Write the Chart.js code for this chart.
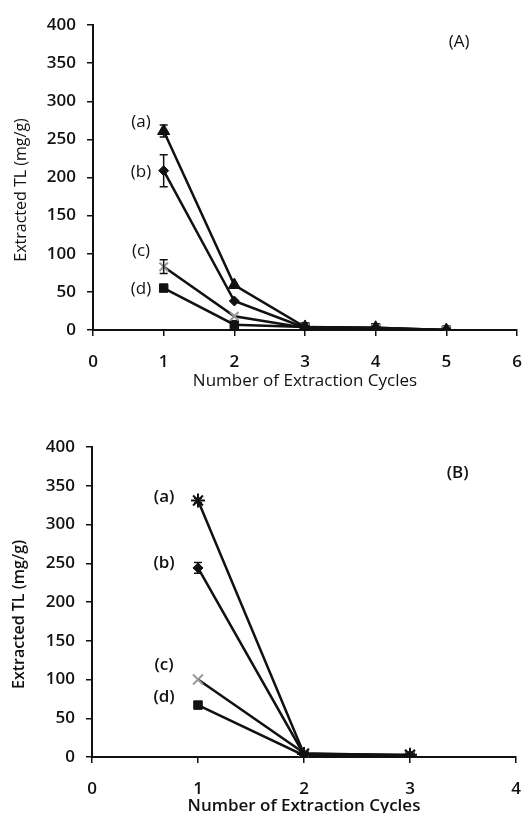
<!DOCTYPE html>
<html>
<head>
<meta charset="utf-8">
<script src="https://cdn.jsdelivr.net/npm/chart.js@4/dist/chart.umd.min.js"></script>
<style>
  html, body { margin: 0; padding: 0; background: #fff; }
  #wrap { position: relative; width: 525px; height: 813px; }
  .panel { position: absolute; left: 0; width: 525px; }
</style>
</head>
<body>
<div id="wrap">
  <div class="panel" style="top:0;height:400px"><canvas id="chartA"></canvas></div>
  <div class="panel" style="top:400px;height:413px"><canvas id="chartB"></canvas></div>
</div>
<script>
// --- data, panel A ---
const cyclesA = [1, 2, 3, 4, 5];
const seriesA_a = [261, 59, 4, 3, 0];
const seriesA_b = [209, 38, 3, 2, 0];
const seriesA_c = [83, 18, 3, 2, 0];
const seriesA_d = [55, 7, 4, 3, 0];
const errA_a = [8, 0, 0, 0, 0];
const errA_b = [21, 0, 0, 0, 0];
const errA_c = [9, 0, 0, 0, 0];
const errA_d = [0, 0, 0, 0, 0];

// --- data, panel B ---
const cyclesB = [1, 2, 3];
const seriesB_a = [331, 4, 3];
const seriesB_b = [244, 3, 2];
const seriesB_c = [100, 5, 2];
const seriesB_d = [67, 2, 1];
const errB_a = [3, 0, 0];
const errB_b = [7, 0, 0];
const errB_c = [0, 0, 0];
const errB_d = [0, 0, 0];

// series labels and where they sit (data units)
const seriesNames = ['(a)', '(b)', '(c)', '(d)'];
const labelXA = 0.68;
const labelYA = [272, 207, 103, 54];
const labelXB = 0.68;
const labelYB = [335, 250, 119, 77];

const yTicks = [0, 50, 100, 150, 200, 250, 300, 350, 400];
const xTitle = 'Number of Extraction Cycles';
// trailing spaces push the rotated title a little lower, like the original
const yTitle = 'Extracted TL (mg/g)      ';

const FONT = "'Open Sans', 'DejaVu Sans', sans-serif";

function toPoints(xs, ys) {
  return xs.map((x, i) => ({ x: x, y: ys[i] }));
}

function dataset(xs, ys, errs, style, radius, color) {
  return {
    data: toPoints(xs, ys),
    errs: errs,
    borderColor: '#111',
    borderWidth: 2.5,
    pointStyle: style,
    pointRadius: radius,
    pointBackgroundColor: color,
    pointBorderColor: color,
    pointBorderWidth: style === 'crossRot' || style === 'star' ? 2 : 1,
    tension: 0
  };
}

// error bars + text labels drawn through the scales
const annotate = {
  id: 'annotate',
  afterDatasetsDraw(chart, args, opts) {
    const ctx = chart.ctx;
    const xs = chart.scales.x, ys = chart.scales.y;
    ctx.save();
    ctx.strokeStyle = '#111';
    ctx.lineWidth = 1.5;
    chart.data.datasets.forEach(ds => {
      ds.data.forEach((p, i) => {
        const e = ds.errs[i];
        if (!e) return;
        const px = xs.getPixelForValue(p.x);
        const top = ys.getPixelForValue(p.y + e);
        const bot = ys.getPixelForValue(p.y - e);
        ctx.beginPath();
        ctx.moveTo(px, top); ctx.lineTo(px, bot);
        ctx.moveTo(px - 4, top); ctx.lineTo(px + 4, top);
        ctx.moveTo(px - 4, bot); ctx.lineTo(px + 4, bot);
        ctx.stroke();
      });
    });
    ctx.fillStyle = '#111';
    ctx.textAlign = 'center';
    ctx.textBaseline = 'middle';
    ctx.font = opts.weight + ' 17px ' + FONT;
    seriesNames.forEach((name, i) => {
      ctx.fillText(name, xs.getPixelForValue(opts.labelX), ys.getPixelForValue(opts.labelY[i]));
    });
    ctx.fillText(opts.tag, xs.getPixelForValue(opts.tagX), ys.getPixelForValue(opts.tagY));
    ctx.restore();
  }
};

function makeChart(id, cfg) {
  return new Chart(document.getElementById(id), {
    type: 'line',
    data: { datasets: cfg.datasets },
    plugins: [annotate],
    options: {
      responsive: true,
      maintainAspectRatio: false,
      animation: false,
      layout: { padding: { left: 0, right: 8, top: cfg.padTop, bottom: 0 } },
      plugins: {
        legend: { display: false },
        tooltip: { enabled: false },
        annotate: cfg.annotate
      },
      scales: {
        x: {
          type: 'linear',
          min: 0,
          max: cfg.xMax,
          afterFit: s => { s.height = cfg.xHeight; s.paddingRight = 0; s.paddingLeft = 0; },
          ticks: { stepSize: 1, padding: 16, color: '#111', font: { family: FONT, size: 17, weight: '600' } },
          grid: { drawOnChartArea: false, tickLength: 6, color: '#111', lineWidth: 1.5 },
          border: { color: '#111', width: 2 },
          title: {
            display: true, text: xTitle, color: '#111',
            font: { family: FONT, size: 17, weight: cfg.titleWeight, lineHeight: cfg.titleLH },
            padding: { top: 0, bottom: cfg.titlePadB }
          }
        },
        y: {
          min: 0,
          max: 400,
          afterFit: s => { s.width = cfg.yWidth; },
          afterBuildTicks: s => { s.ticks = yTicks.map(v => ({ value: v })); },
          ticks: { padding: 11, color: '#111', font: { family: FONT, size: 17, weight: '600' } },
          grid: { drawOnChartArea: false, tickLength: 6, color: '#111', lineWidth: 1.5 },
          border: { color: '#111', width: 2 },
          title: {
            display: true, text: yTitle, color: '#111',
            font: { family: FONT, size: 16, weight: cfg.titleWeight },
            padding: { top: cfg.yTitlePad, bottom: 0 }
          }
        }
      }
    }
  });
}

makeChart('chartA', {
  datasets: [
    dataset(cyclesA, seriesA_a, errA_a, 'triangle', 7, '#111'),
    dataset(cyclesA, seriesA_b, errA_b, 'rectRot', 5, '#111'),
    dataset(cyclesA, seriesA_c, errA_c, 'crossRot', 6, '#999'),
    dataset(cyclesA, seriesA_d, errA_d, 'rect', 6, '#111')
  ],
  xMax: 6, padTop: 25, xHeight: 70, yWidth: 93,
  titleWeight: 'normal', titleLH: 1.2, titlePadB: 9, yTitlePad: 12,
  annotate: { labelX: labelXA, labelY: labelYA, weight: 'normal', tag: '(A)', tagX: 5.18, tagY: 378 }
});

makeChart('chartB', {
  datasets: [
    dataset(cyclesB, seriesB_a, errB_a, 'star', 7, '#111'),
    dataset(cyclesB, seriesB_b, errB_b, 'rectRot', 5, '#111'),
    dataset(cyclesB, seriesB_c, errB_c, 'crossRot', 7, '#999'),
    dataset(cyclesB, seriesB_d, errB_d, 'rect', 6, '#111')
  ],
  xMax: 4, padTop: 47, xHeight: 56, yWidth: 92,
  titleWeight: '600', titleLH: 0.8, titlePadB: 0, yTitlePad: 10,
  annotate: { labelX: labelXB, labelY: labelYB, weight: '600', tag: '(B)', tagX: 3.45, tagY: 366 }
});
</script>
</body>
</html>
